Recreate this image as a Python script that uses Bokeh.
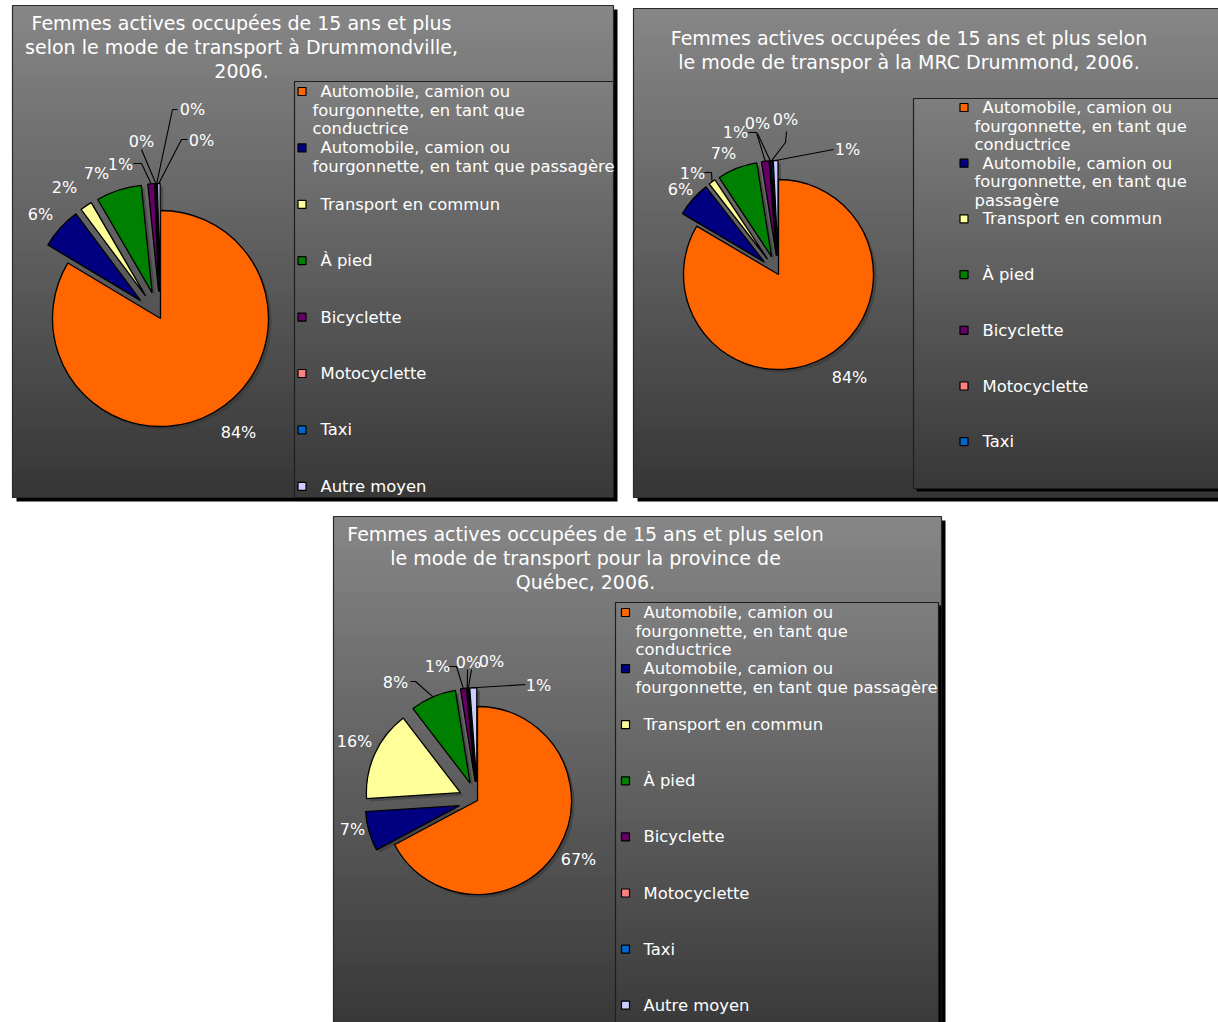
import numpy as np
from bokeh.plotting import figure
from bokeh.models import Range1d
from bokeh.embed import file_html
from bokeh.resources import INLINE
from bokeh.core.properties import value

# ---------------- data ----------------
categories = [
    "Automobile, camion ou fourgonnette, en tant que conductrice",
    "Automobile, camion ou fourgonnette, en tant que passagère",
    "Transport en commun",
    "À pied",
    "Bicyclette",
    "Motocyclette",
    "Taxi",
    "Autre moyen",
]
slice_colors = ["#FF6600", "#000080", "#FFFF99", "#008000",
                "#660066", "#FF8080", "#0066CC", "#CCCCFF"]

# percentages
drummondville = [83.6, 6.2, 1.8, 6.8, 1.0, 0.1, 0.1, 0.4]
mrc_drummond = [83.5, 6.0, 1.2, 6.8, 1.3, 0.1, 0.3, 0.8]
quebec = [67.2, 6.8, 15.6, 7.9, 1.0, 0.1, 0.2, 1.2]

title_drummondville = ["Femmes actives occupées de 15 ans et plus",
                       "selon le mode de transport à Drummondville,",
                       "2006."]
title_mrc = ["Femmes actives occupées de 15 ans et plus selon",
             "le mode de transpor à la MRC Drummond, 2006."]
title_quebec = ["Femmes actives occupées de 15 ans et plus selon",
                "le mode de transport pour la province de",
                "Québec, 2006."]

legend_wide = [["Automobile, camion ou", "fourgonnette, en tant que", "conductrice"],
               ["Automobile, camion ou", "fourgonnette, en tant que passagère"],
               [categories[2]], [categories[3]], [categories[4]],
               [categories[5]], [categories[6]], [categories[7]]]
legend_narrow = [["Automobile, camion ou", "fourgonnette, en tant que", "conductrice"],
                 ["Automobile, camion ou", "fourgonnette, en tant que", "passagère"],
                 [categories[2]], [categories[3]], [categories[4]],
                 [categories[5]], [categories[6]]]

FONT = value("DejaVu Sans")

# ---------------- figure ----------------
W, H = 1218, 1022
p = figure(width=W, height=H, x_range=Range1d(0, W), y_range=Range1d(1022 - H, 1022),
           output_backend="svg", toolbar_location=None, min_border=0)
p.axis.visible = False
p.grid.visible = False
p.outline_line_color = None
p.background_fill_color = "white"
p.border_fill_color = "white"


def Y(y):
    return 1022 - np.asarray(y, dtype=float)


def gradient_box(l, t, r, b, top_rgb, bot_rgb, shadow=4, border="#2a2a2a", n=70):
    p.quad(left=[l + shadow], right=[r + shadow], top=[Y(t + shadow)], bottom=[Y(b + shadow)],
           fill_color="black", line_color=None)
    edges = np.linspace(t, b, n + 1)
    fr = np.linspace(0, 1, n)
    cols = []
    for f in fr:
        c = [int(round(top_rgb[k] + (bot_rgb[k] - top_rgb[k]) * f)) for k in range(3)]
        cols.append("#%02x%02x%02x" % tuple(c))
    bots = np.minimum(edges[1:] + 2.0, b)
    p.quad(left=[l] * n, right=[r] * n, top=Y(edges[:-1]), bottom=Y(bots),
           fill_color=cols, line_color=None)
    p.quad(left=[l], right=[r], top=[Y(t)], bottom=[Y(b)], fill_color=None,
           line_color=border, line_width=1.2)


def panel(box, lbox, title_lines, title_x, title_y, vals, n_leg, legend_lines,
          sq_x, first_x, cont_x, y0, spacing, pie_c, rad, lab_pos, leaders, explode=0.22):
    gradient_box(*box, (134, 134, 134), (54, 54, 54))
    p.text(x=[title_x] * len(title_lines), y=Y(title_y), text=title_lines,
           text_color="white", text_font=FONT, text_font_size="19px",
           text_align="center", text_baseline="middle")
    # legend
    gradient_box(*lbox, (126, 126, 126), (56, 56, 56), shadow=3, border="#1e1e1e")
    sx, sy, sc = [], [], []
    tx, ty, tt = [], [], []
    for i in range(n_leg):
        yy = y0 + i * spacing
        sx.append(sq_x); sy.append(yy); sc.append(slice_colors[i])
        for j, line in enumerate(legend_lines[i]):
            tx.append(first_x if j == 0 else cont_x)
            ty.append(yy + j * 18.6)
            tt.append(line)
    p.rect(x=sx, y=Y(sy), width=8, height=8, fill_color=sc, line_color="black", line_width=1.2)
    p.text(x=tx, y=Y(ty), text=tt, text_color="white", text_font=FONT,
           text_font_size="16.4px", text_align="left", text_baseline="middle")
    # pie
    v = np.asarray(vals, dtype=float)
    cum = np.concatenate([[0.0], np.cumsum(v)[:-1]])
    start = np.deg2rad(90 - 3.6 * (cum + v))
    end = np.deg2rad(90 - 3.6 * cum)
    mid = (start + end) / 2
    expl = np.where(np.arange(len(v)) == 0, 0.0, explode * rad)
    cx = pie_c[0] + expl * np.cos(mid)
    cy = Y(pie_c[1]) + expl * np.sin(mid)
    p.wedge(x=cx + 3, y=cy - 3, radius=rad, start_angle=start, end_angle=end,
            fill_color="#303030", fill_alpha=0.45, line_color=None)
    p.wedge(x=cx, y=cy, radius=rad, start_angle=start, end_angle=end,
            fill_color=slice_colors[:len(v)], line_color="black", line_width=1.3)
    xs, ys = [], []
    for i, pts in leaders.items():
        ax = cx[i] + rad * np.cos(mid[i])
        ay = cy[i] + rad * np.sin(mid[i])
        xs.append([q[0] for q in pts] + [ax])
        ys.append(list(Y([q[1] for q in pts])) + [ay])
    p.multi_line(xs=xs, ys=ys, line_color="black", line_width=1.1)
    labels = ["%d%%" % round(x) for x in v]
    p.text(x=[q[0] for q in lab_pos], y=Y([q[1] for q in lab_pos]), text=labels,
           text_color="white", text_font=FONT, text_font_size="16px",
           text_align="center", text_baseline="middle")


panel(box=(12, 5, 613, 497), lbox=(294, 81, 613, 497),
      title_lines=title_drummondville, title_x=241, title_y=[22.5, 46.5, 70.5],
      vals=drummondville, n_leg=8, legend_lines=legend_wide,
      sq_x=301.5, first_x=320, cont_x=312, y0=91, spacing=56.4,
      pie_c=(160, 318), rad=108,
      lab_pos=[(238, 432), (40, 214), (64, 187), (96, 173), (120, 164),
               (141, 141), (192, 109), (201, 140)],
      leaders={4: [(133, 163), (141, 163)], 5: [(141, 149)],
               6: [(177, 109), (172, 109)], 7: [(187, 139), (181, 139)]},
      explode=0.25)

panel(box=(633, 8, 1240, 497), lbox=(913, 98, 1240, 488),
      title_lines=title_mrc, title_x=908.5, title_y=[37, 61],
      vals=mrc_drummond, n_leg=7, legend_lines=legend_narrow,
      sq_x=963.5, first_x=982, cont_x=974, y0=107, spacing=55.7,
      pie_c=(778, 274), rad=95,
      lab_pos=[(849, 377), (680, 189), (692, 173), (723, 153), (735, 132),
               (757, 123), (785, 119), (847, 149)],
      leaders={2: [(704, 172), (711, 172)], 4: [(748, 132), (756, 132)],
               5: [(757, 133)], 6: [(786, 131), (785, 142)], 7: [(833, 149)]},
      explode=0.2)

panel(box=(333, 516, 941, 1040), lbox=(615, 602, 938, 1040),
      title_lines=title_quebec, title_x=585, title_y=[533, 557, 581.5],
      vals=quebec, n_leg=8, legend_lines=legend_wide,
      sq_x=625, first_x=643, cont_x=635, y0=612, spacing=56.1,
      pie_c=(477, 800), rad=94,
      lab_pos=[(578, 859), (352, 829), (354, 741), (395, 682), (437, 666),
               (468, 662), (491, 661), (538, 685)],
      leaders={3: [(410, 681), (415, 681)], 4: [(448, 666), (456, 666)],
               5: [(467, 669)], 6: [(471, 669)], 7: [(525, 684)]},
      explode=0.2)

open("out.html", "w").write(file_html(p, INLINE))
